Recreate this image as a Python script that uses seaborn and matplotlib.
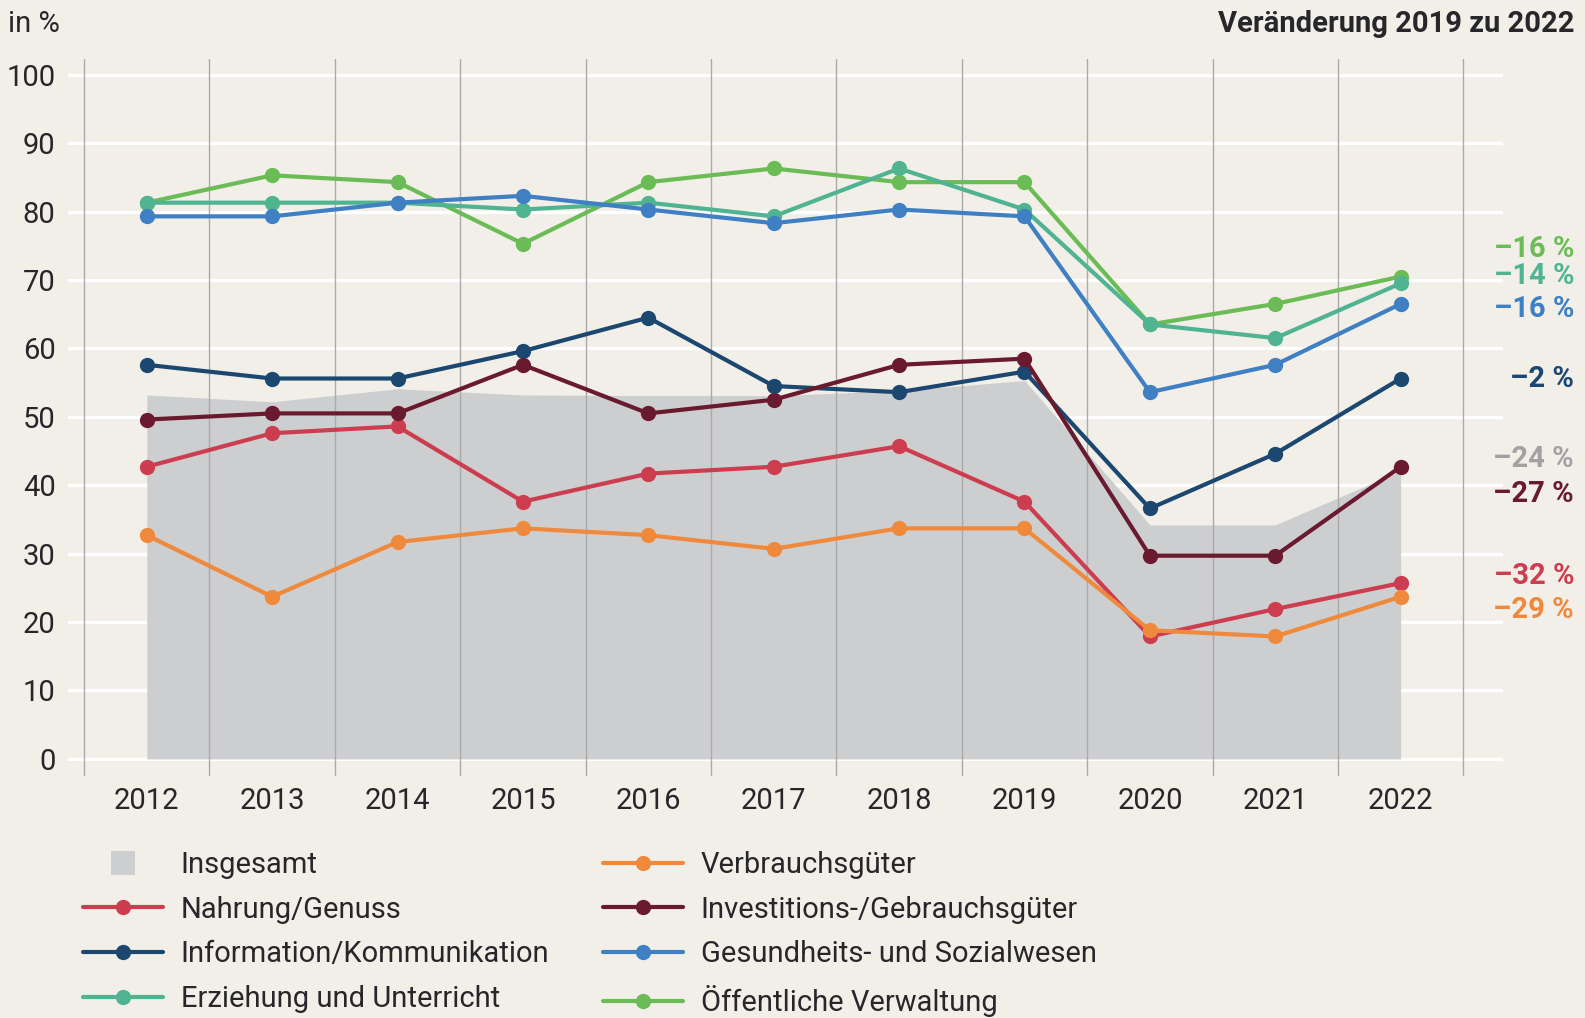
import matplotlib
matplotlib.use("Agg")
import matplotlib.pyplot as plt
import matplotlib.transforms as mtransforms
from matplotlib.lines import Line2D
import seaborn as sns
import numpy as np

years = ["2012", "2013", "2014", "2015", "2016", "2017", "2018", "2019", "2020", "2021", "2022"]

insgesamt = [53.2, 52.2, 54.1, 53.2, 53.1, 53.1, 53.8, 55.3, 34.2, 34.2, 42.1]
nahrung = [42.7, 47.6, 48.6, 37.6, 41.7, 42.7, 45.7, 37.6, 17.9, 21.9, 25.7]
verbrauch = [32.7, 23.7, 31.7, 33.7, 32.7, 30.7, 33.7, 33.7, 18.8, 17.9, 23.7]
information = [57.6, 55.6, 55.6, 59.6, 64.5, 54.5, 53.6, 56.6, 36.6, 44.6, 55.6]
investition = [49.6, 50.5, 50.5, 57.6, 50.5, 52.5, 57.6, 58.5, 29.7, 29.7, 42.7]
gesundheit = [79.3, 79.3, 81.3, 82.3, 80.3, 78.3, 80.3, 79.3, 53.6, 57.6, 66.5]
erziehung = [81.3, 81.3, 81.3, 80.3, 81.3, 79.3, 86.3, 80.3, 63.5, 61.5, 69.5]
verwaltung = [81.3, 85.3, 84.3, 75.3, 84.3, 86.3, 84.3, 84.3, 63.5, 66.5, 70.5]

change_labels = ["–16 %", "–14 %", "–16 %", "–2 %", "–24 %", "–27 %", "–32 %", "–29 %"]

BG = "#f1efe7"
GRAY = "#cdced0"
C_NAHRUNG = "#cc3d4f"
C_VERBRAUCH = "#ef8a3d"
C_INFO = "#1c4770"
C_INVEST = "#6a1a2e"
C_GESUND = "#3f7fc4"
C_ERZ = "#50b392"
C_VERW = "#6bbb56"
C_LABELGRAY = "#a2a2a4"
TXT = "#26262b"

sns.set_theme(style="white")
plt.rcParams["font.family"] = ["Roboto", "DejaVu Sans"]

fig = plt.figure(figsize=(15.85, 10.18), dpi=100, facecolor=BG)
ax = fig.add_axes([68 / 1585, 1 - 776 / 1018, (1503 - 68) / 1585, (776 - 59) / 1018])
ax.set_facecolor(BG)

x = np.arange(len(years))

# area
ax.fill_between(x, insgesamt, 0, color=GRAY, linewidth=0, zorder=1)

# vertical separators
for xv in np.arange(-0.5, len(years), 1.0):
    ax.axvline(xv, color="#aaaaaa", linewidth=1.0, zorder=1.5)

series = [
    (nahrung, C_NAHRUNG),
    (verbrauch, C_VERBRAUCH),
    (information, C_INFO),
    (investition, C_INVEST),
    (verwaltung, C_VERW),
    (erziehung, C_ERZ),
    (gesundheit, C_GESUND),
]
for i, (vals, col) in enumerate(series):
    sns.lineplot(x=x, y=vals, color=col, marker="o", markersize=11,
                 markeredgewidth=0, linewidth=3, ax=ax, zorder=3 + i)

ax.set_xlim(-0.628, 10.816)
ax.set_ylim(-2.5, 102.3)
ax.set_yticks(np.arange(0, 101, 10))
ax.set_xticks(x)
ax.set_xticklabels(years)
ax.grid(False)
ax.yaxis.grid(True, color="white", linewidth=2.4)
ax.set_axisbelow(True)
for s in ax.spines.values():
    s.set_visible(False)
ax.tick_params(axis="both", length=0, labelsize=21, colors=TXT)
ax.tick_params(axis="y", pad=9)
ax.tick_params(axis="x", pad=8)

# right labels
label_y = [74.6, 70.6, 65.7, 55.6, 43.8, 38.7, 26.8, 21.8]
label_cols = [C_VERW, C_ERZ, C_GESUND, C_INFO, C_LABELGRAY, C_INVEST, C_NAHRUNG, C_VERBRAUCH]
blend = mtransforms.blended_transform_factory(fig.transFigure, ax.transData)
for txt, yv, col in zip(change_labels, label_y, label_cols):
    fig.text(1574 / 1585, yv, txt, transform=blend,
             ha="right", va="center", fontsize=21, fontweight="bold", color=col)

fig.text(8 / 1585, 1 - 24 / 1018, "in %", ha="left", va="center", fontsize=21, color=TXT)
fig.text(1574 / 1585, 1 - 24 / 1018, "Veränderung 2019 zu 2022", ha="right", va="center",
         fontsize=21, fontweight="bold", color=TXT)

# legends
def lh(col):
    return Line2D([], [], color=col, marker="o", markersize=11, markeredgewidth=0, linewidth=3)

h_ins = Line2D([], [], color="none", marker="s", markersize=17, markerfacecolor=GRAY,
               markeredgewidth=0)
col1 = [(h_ins, "Insgesamt"), (lh(C_NAHRUNG), "Nahrung/Genuss"),
        (lh(C_INFO), "Information/Kommunikation"), (lh(C_ERZ), "Erziehung und Unterricht")]
col2 = [(lh(C_VERBRAUCH), "Verbrauchsgüter"), (lh(C_INVEST), "Investitions-/Gebrauchsgüter"),
        (lh(C_GESUND), "Gesundheits- und Sozialwesen"), (lh(C_VERW), "Öffentliche Verwaltung")]

for items, xa in [(col1, 83 / 1585), (col2, 603 / 1585)]:
    leg = fig.legend([h for h, _ in items], [t for _, t in items], loc="upper left",
                     bbox_to_anchor=(xa, 1 - 851 / 1018), frameon=False, fontsize=21,
                     handlelength=2.75, handletextpad=0.6, labelspacing=0.57,
                     borderaxespad=0, borderpad=0, labelcolor=TXT)

fig.savefig("out.png", dpi=100, facecolor=BG)
